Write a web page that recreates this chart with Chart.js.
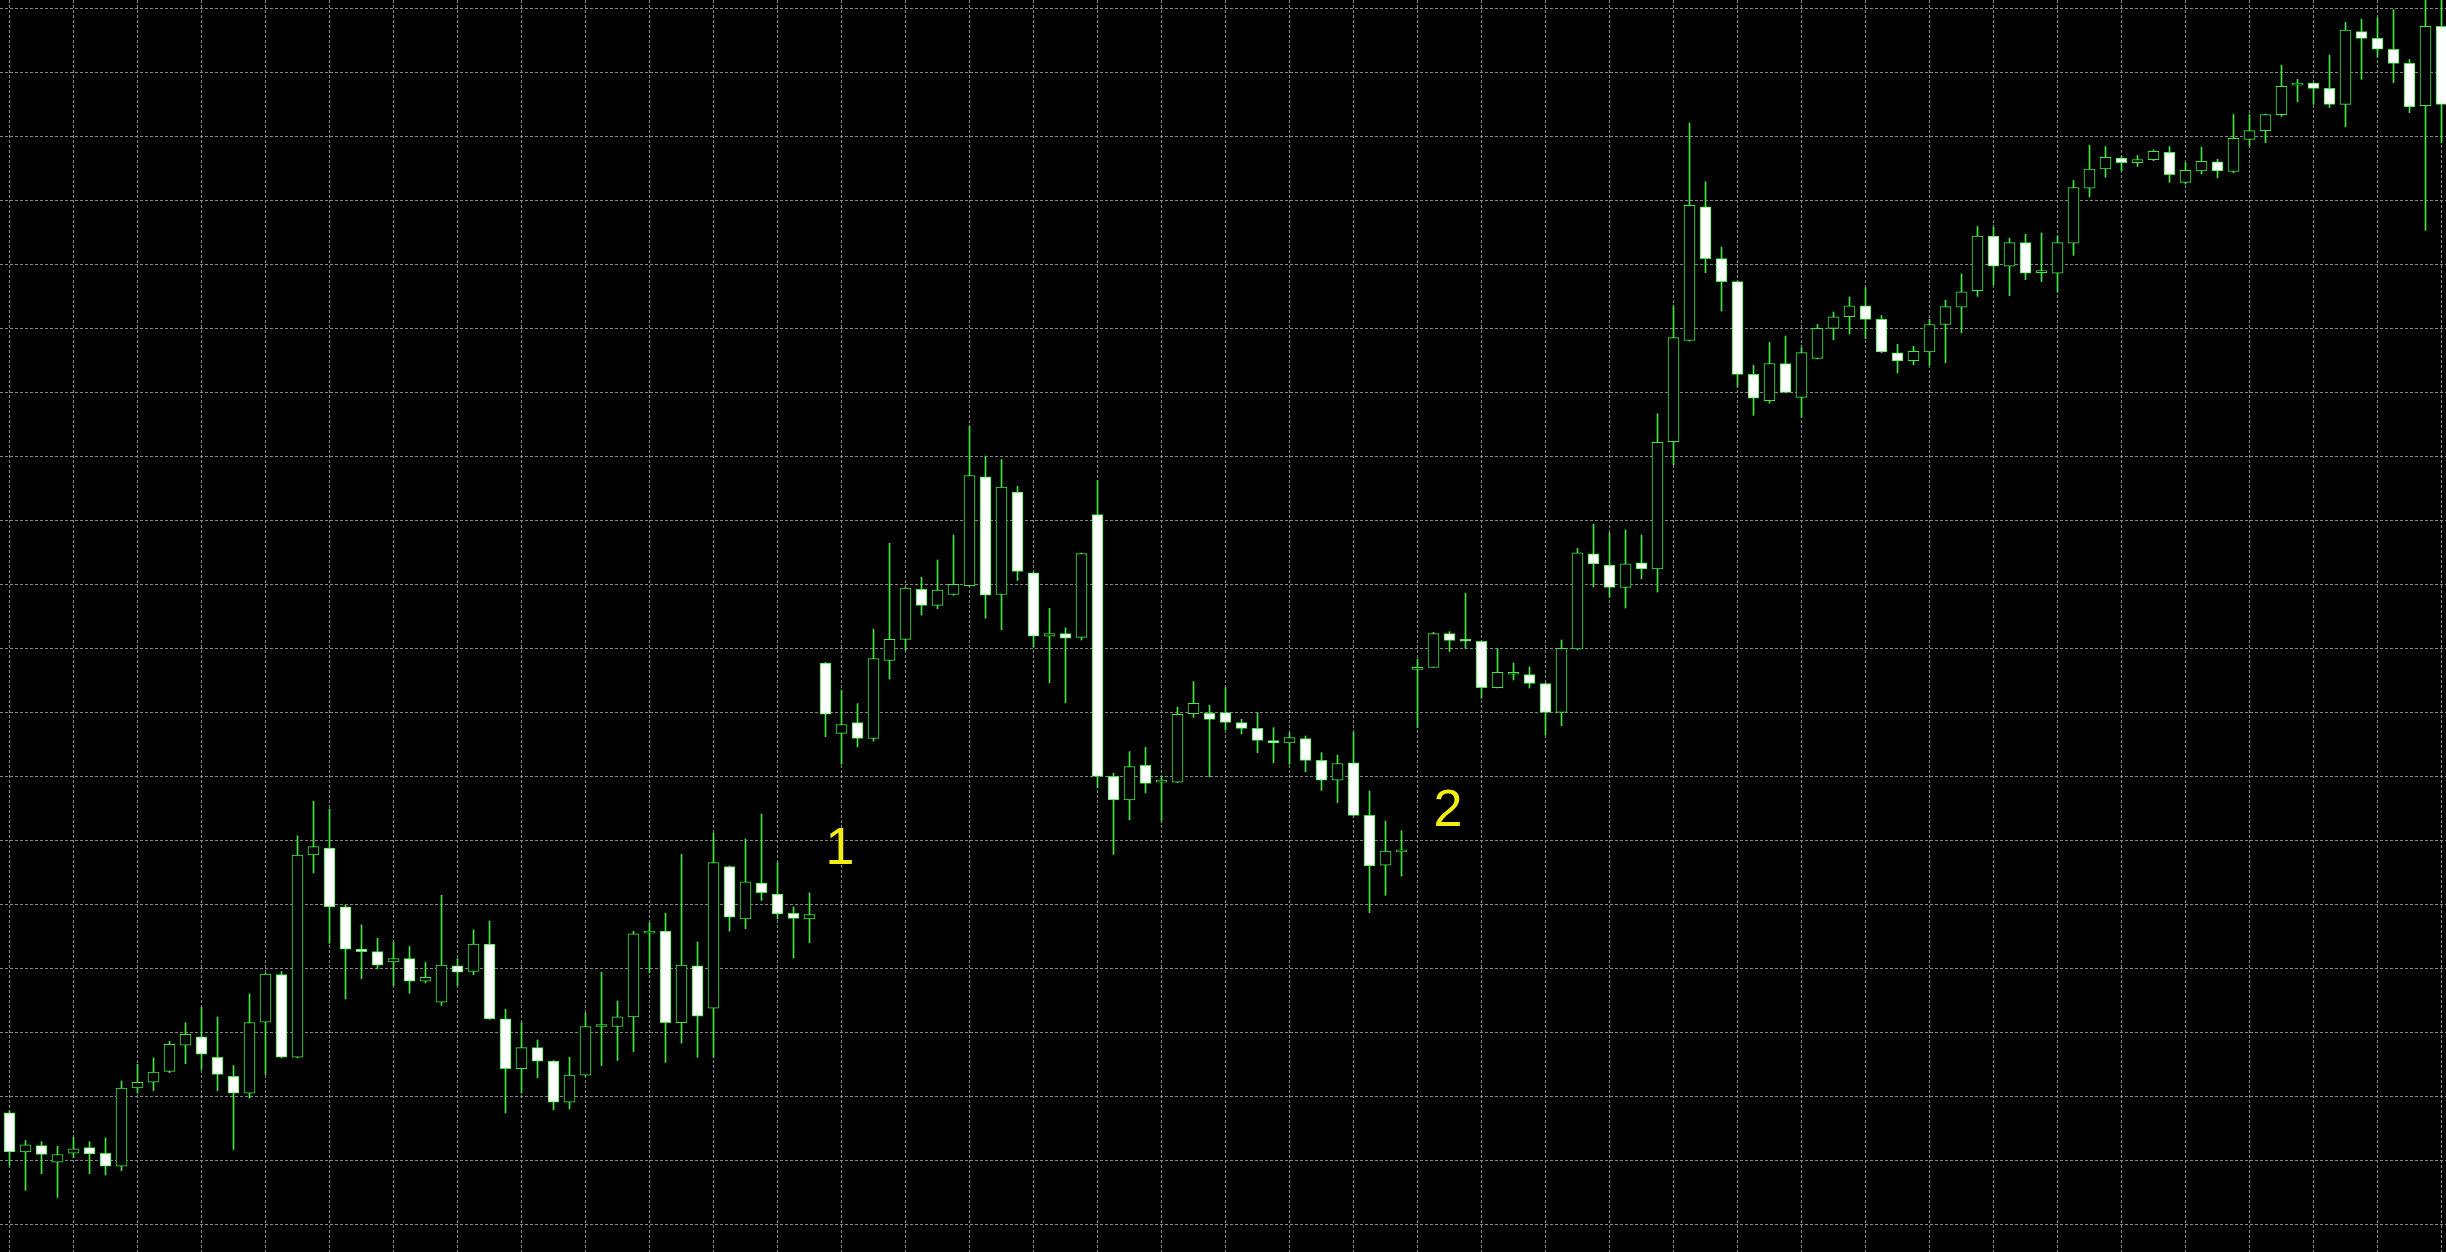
<!DOCTYPE html>
<html>
<head>
<meta charset="utf-8">
<title>Candles</title>
<script src="https://cdn.jsdelivr.net/npm/chart.js@4.4.0/dist/chart.umd.min.js"></script>
<style>
  html, body { margin: 0; padding: 0; background: #000; }
  #wrap { width: 2446px; height: 1252px; position: relative; }
</style>
</head>
<body>
<div id="wrap"><canvas id="velas"></canvas></div>
<script>
// price data, one entry per candle
var opens = [27.4, 21.3, 22.3, 19.7, 21.1, 22.0, 21.1, 19.1, 31.3, 32.2,
  33.9, 38.0, 39.3, 36.1, 33.1, 30.5, 41.6, 49.0, 36.1, 67.7,
  68.8, 59.6, 53.0, 52.6, 51.0, 51.5, 48.0, 44.7, 50.4, 49.5,
  53.8, 42.1, 34.3, 37.6, 35.5, 29.1, 33.3, 40.9, 40.9, 42.4,
  55.5, 55.8, 41.5, 50.4, 43.75, 65.9, 57.7, 63.3, 61.6, 58.6,
  57.7, 97.7, 86.7, 88.4, 85.9, 98.1, 101.4, 109.2, 106.7, 108.4,
  109.8, 126.8, 108.4, 124.4, 111.8, 101.9, 102.3, 101.7, 120.9, 80.0,
  76.3, 81.7, 79.1, 79.1, 89.8, 89.85, 89.95, 88.4, 87.5, 85.6,
  85.2, 85.9, 82.5, 79.4, 82.1, 73.9, 66.1, 68.2, 96.7, 97.0,
  102.3, 101.2, 101.1, 93.85, 95.95, 95.9, 94.5, 90.0, 99.9, 114.75,
  113.0, 109.5, 113.35, 112.4, 132.3, 148.1, 169.0, 160.9, 157.3, 142.8,
  138.7, 144.5, 139.2, 145.3, 150.0, 151.8, 153.5, 151.4, 146.15, 144.95,
  146.3, 150.6, 153.3, 155.9, 164.4, 159.7, 163.4, 158.7, 158.6, 163.3,
  171.9, 174.9, 176.6, 175.9, 176.35, 177.5, 172.8, 174.6, 176.0, 174.5,
  179.5, 180.9, 183.4, 188.0, 188.3, 187.5, 185.0, 196.35, 195.3, 193.6,
  191.4, 184.8, 197.2];
var highs = [27.7, 23.1, 22.9, 22.2, 23.6, 22.9, 23.5, 32.4, 35.0, 36.0,
  38.6, 41.5, 43.9, 42.4, 34.8, 46.0, 49.2, 49.5, 70.7, 76.1,
  74.9, 59.9, 56.8, 54.7, 54.1, 53.4, 50.9, 61.4, 51.5, 56.0,
  57.4, 43.6, 41.5, 38.8, 35.6, 36.1, 43.0, 49.4, 44.9, 55.8,
  57.1, 58.6, 67.8, 54.1, 71.1, 66.0, 70.2, 74.1, 66.5, 59.6,
  61.8, 97.8, 93.4, 91.35, 103.0, 116.4, 109.5, 111.1, 113.8, 117.7,
  134.7, 130.05, 129.5, 125.3, 111.9, 106.25, 103.2, 114.9, 126.25, 80.5,
  83.85, 84.5, 80.0, 90.8, 94.8, 91.1, 93.85, 88.9, 89.95, 87.6,
  86.8, 86.3, 83.7, 83.3, 86.9, 77.7, 73.0, 71.5, 98.3, 102.5,
  102.6, 108.6, 101.2, 100.0, 97.7, 97.1, 94.6, 101.3, 115.6, 119.4,
  118.0, 118.5, 117.7, 136.65, 153.4, 182.1, 172.9, 162.7, 157.4, 144.2,
  147.8, 148.8, 147.0, 150.6, 152.55, 154.9, 156.35, 152.0, 147.5, 147.2,
  151.4, 154.4, 158.5, 165.9, 165.8, 164.1, 164.7, 164.9, 164.4, 173.1,
  178.6, 178.4, 176.9, 177.0, 177.9, 178.4, 175.9, 178.3, 176.4, 183.4,
  183.4, 183.5, 191.1, 188.9, 188.4, 192.7, 197.8, 198.3, 198.5, 199.8,
  192.0, 203.0, 203.0];
var lows = [19.2, 15.3, 17.9, 14.2, 20.4, 17.9, 17.7, 18.4, 30.5, 30.9,
  33.7, 35.1, 34.2, 30.9, 21.7, 29.7, 33.4, 36.0, 36.0, 64.9,
  53.9, 45.2, 48.4, 49.9, 47.3, 46.1, 47.7, 44.2, 47.3, 49.0,
  42.0, 27.4, 30.5, 32.9, 27.9, 28.0, 33.1, 34.8, 35.6, 37.0,
  49.3, 35.3, 38.3, 36.1, 36.1, 55.8, 56.2, 60.6, 57.7, 51.6,
  54.0, 86.2, 81.9, 84.6, 85.5, 95.2, 99.7, 105.2, 106.2, 108.3,
  109.7, 104.7, 102.9, 110.6, 100.2, 94.6, 91.5, 101.3, 78.2, 67.8,
  73.2, 77.4, 73.0, 79.0, 89.2, 79.9, 87.3, 86.6, 83.7, 82.1,
  81.9, 80.7, 77.8, 75.9, 73.8, 58.7, 61.4, 64.4, 87.6, 97.0,
  99.5, 100.0, 92.2, 93.8, 95.05, 93.8, 86.5, 87.9, 99.8, 109.6,
  108.0, 106.3, 110.85, 108.8, 128.7, 148.0, 158.7, 152.7, 140.85, 136.4,
  138.3, 139.9, 136.1, 145.2, 148.2, 149.1, 148.4, 146.2, 143.0, 144.3,
  144.2, 144.6, 149.3, 155.0, 156.8, 155.1, 157.6, 157.3, 155.7, 161.4,
  170.5, 173.6, 174.6, 175.3, 176.2, 172.8, 172.55, 174.1, 173.5, 174.3,
  178.5, 179.0, 183.1, 185.4, 185.0, 184.5, 181.5, 188.9, 192.4, 188.4,
  183.7, 165.3, 179.0];
var closes = [21.3, 22.4, 20.9, 20.9, 21.8, 21.0, 19.1, 31.3, 32.2, 33.8,
  38.1, 39.7, 36.6, 33.4, 30.5, 41.5, 49.1, 36.1, 67.7, 69.0,
  59.6, 53.0, 52.6, 50.5, 51.5, 48.0, 48.6, 50.5, 49.4, 53.8,
  42.1, 34.3, 37.6, 35.5, 29.1, 33.3, 40.9, 41.0, 42.4, 55.4,
  55.7, 41.5, 50.5, 42.5, 66.5, 58.0, 63.5, 61.8, 58.5, 57.8,
  58.4, 89.7, 88.1, 85.9, 98.4, 101.4, 109.4, 106.7, 109.1, 110.0,
  127.0, 108.3, 125.2, 112.0, 101.9, 102.3, 101.6, 114.8, 80.0, 76.3,
  81.5, 78.9, 79.4, 89.7, 91.4, 88.9, 88.4, 87.5, 85.6, 85.2,
  86.05, 82.5, 79.4, 82.0, 73.9, 66.0, 68.3, 68.5, 96.9, 102.3,
  101.25, 101.1, 93.85, 96.25, 96.05, 94.5, 90.0, 100.0, 114.9, 113.2,
  109.5, 113.2, 112.4, 132.2, 148.55, 169.2, 160.9, 157.3, 142.8, 139.1,
  144.5, 140.0, 146.2, 150.0, 151.8, 153.5, 151.4, 146.3, 144.9, 146.4,
  150.6, 153.4, 155.7, 164.4, 159.7, 163.4, 158.6, 158.8, 163.4, 172.0,
  174.9, 176.7, 175.9, 176.35, 177.65, 174.0, 174.7, 176.1, 174.6, 179.7,
  180.9, 183.4, 187.8, 188.3, 187.5, 185.0, 196.6, 195.3, 193.6, 191.4,
  184.6, 197.2, 185.0];

// grid positions (every 4 bars, every 10 price units)
var xGrid = [];
for (var g = 0; g <= 152; g += 4) xGrid.push(g);
var yGrid = [];
for (var p = 10; p <= 200; p += 10) yGrid.push(p);

// numbered marks drawn on the chart
var markText = ['1', '2'];
var markX = [51.9, 89.9];
var markY = [66.3, 72.3];

// visible window (bar centres land on half pixels so 1px wicks stay sharp)
var xMin = -0.59375, xMax = 152.28125;
var yMin = 5.67, yMax = 201.3;

var verde = 'rgb(64, 232, 64)';
var rejilla = 'rgba(150, 150, 150, 0.9)';

var idx = opens.map(function (_, i) { return i; });

var velasData = {
  datasets: [
    {
      label: 'cuerpos',
      data: idx.map(function (i) { return { x: i, y: [opens[i], closes[i]] }; }),
      backgroundColor: function (c) {
        var i = c.dataIndex;
        return closes[i] < opens[i] ? '#ffffff' : '#000000';
      },
      borderColor: verde,
      borderWidth: 1,
      borderSkipped: false,
      barThickness: 11,
      minBarLength: 2,
      grouped: false,
      order: 1
    },
    {
      label: 'mechas',
      data: idx.map(function (i) { return { x: i, y: [lows[i], highs[i]] }; }),
      backgroundColor: verde,
      borderWidth: 0,
      barThickness: 1,
      grouped: false,
      order: 2
    }
  ]
};

// numbers "1" and "2"
var marcas = {
  id: 'marcas',
  afterDatasetsDraw: function (chart) {
    var ctx = chart.ctx;
    var sx = chart.scales.x, sy = chart.scales.y;
    ctx.save();
    ctx.font = '52px "Liberation Sans", Arial, sans-serif';
    ctx.fillStyle = '#f4ee10';
    ctx.textAlign = 'center';
    ctx.textBaseline = 'alphabetic';
    for (var i = 0; i < markText.length; i++) {
      ctx.fillText(markText[i], sx.getPixelForValue(markX[i]), sy.getPixelForValue(markY[i]));
    }
    ctx.restore();
  }
};

var ctx = document.getElementById('velas').getContext('2d');
var velas = new Chart(ctx, {
  type: 'bar',
  data: velasData,
  plugins: [marcas],
  options: {
    responsive: true,
    maintainAspectRatio: false,
    animation: false,
    layout: { padding: 0 },
    plugins: { legend: { display: false }, tooltip: { enabled: false } },
    scales: {
      x: {
        type: 'linear',
        min: xMin,
        max: xMax,
        offset: false,
        afterBuildTicks: function (axis) { axis.ticks = xGrid.map(function (v) { return { value: v }; }); },
        ticks: { display: false },
        grid: { color: rejilla, lineWidth: 1, drawTicks: false, offset: false },
        border: { display: false, dash: [3, 2] }
      },
      y: {
        type: 'linear',
        min: yMin,
        max: yMax,
        beginAtZero: false,
        afterBuildTicks: function (axis) { axis.ticks = yGrid.map(function (v) { return { value: v }; }); },
        ticks: { display: false },
        grid: { color: rejilla, lineWidth: 1, drawTicks: false },
        border: { display: false, dash: [3, 2] }
      }
    }
  }
});
</script>
</body>
</html>
